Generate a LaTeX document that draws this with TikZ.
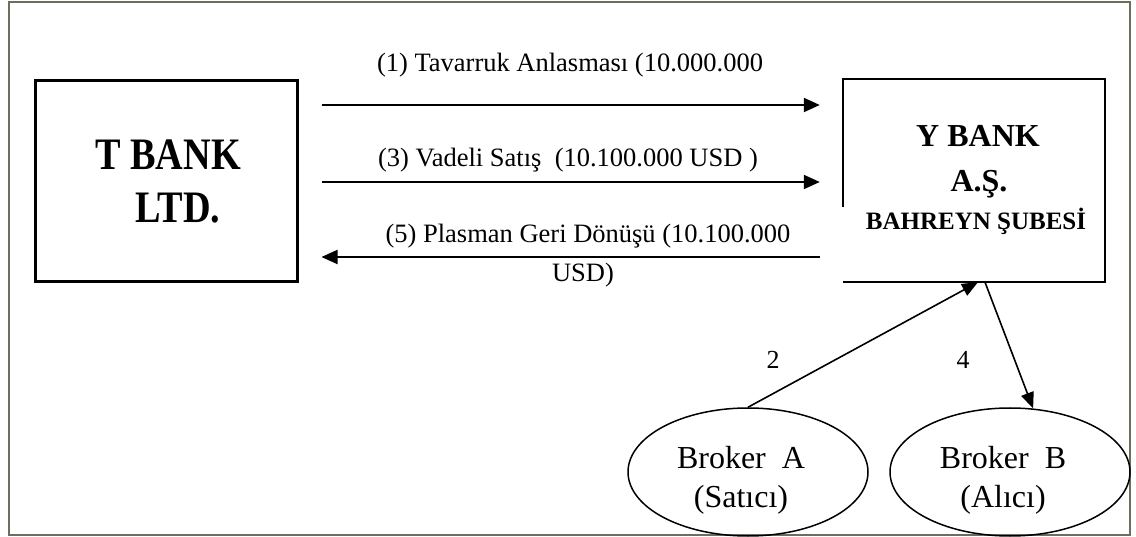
\documentclass[tikz,border=0pt]{standalone}
\usepackage{fontspec}
\setmainfont{Liberation Serif}
\usepackage{graphicx}
\usetikzlibrary{arrows.meta,shapes.geometric,calc}
\definecolor{framec}{HTML}{6E6E5E}
\begin{document}
\begin{tikzpicture}[x=1pt,y=-1pt,
  tbox/.style={draw, line width=3pt, minimum width=262pt, minimum height=201pt, inner sep=0pt},
  ybox/.style={minimum width=262pt, minimum height=203pt, inner sep=0pt},
  broker/.style={draw, ellipse, line width=1.5pt, minimum width=240pt, minimum height=128pt, inner sep=0pt},
  lbl/.style={anchor=base, inner sep=0pt, font=\fontsize{26.5}{30}\selectfont},
  btext/.style={align=center, inner sep=0pt, font=\fontsize{32}{39}\selectfont},
  num/.style={inner sep=0pt, font=\fontsize{26}{30}\selectfont},
  harr/.style={line width=2pt, -{Triangle[length=16pt,width=14pt]}, shorten <=23pt, shorten >=23pt},
  darr/.style={line width=1.6pt, -{Triangle[length=16pt,width=13pt]}}
]
\useasboundingbox (0,0) rectangle (1136,537);
\fill[white] (0,0) rectangle (1136,537);
\draw[framec, line width=2pt] (9,2) rectangle (1130,535);

% boxes
\node[tbox] (T) at (166,181.5) {};
\node[anchor=base, inner sep=0pt] (T1) at (168,170) {\scalebox{0.85}[1]{\fontsize{45}{45}\selectfont\bfseries T BANK}};
\node[anchor=base, inner sep=0pt] (T2) at (178,223) {\scalebox{0.85}[1]{\fontsize{45}{45}\selectfont\bfseries LTD.}};

\node[ybox] (Y) at (974,180.5) {};
\draw[line width=1.5pt] ($(Y.south west)+(0,-75)$) -- (Y.north west) -- (Y.north east) -- (Y.south east) -- (Y.south west);
\node[anchor=base, inner sep=0pt, font=\fontsize{32}{32}\selectfont\bfseries] (Y1) at (978,147) {Y BANK};
\node[anchor=base, inner sep=0pt, font=\fontsize{32}{32}\selectfont\bfseries] (Y2) at (979,192) {A.Ş.};
\node[anchor=base, inner sep=0pt, font=\fontsize{25}{26}\selectfont\bfseries] (Y3) at (976,230) {BAHREYN ŞUBESİ};

% brokers
\node[broker] (bA) at (748,472) {};
\node[btext] (bAt) at (741,480) {Broker\ \ A\\(Satıcı)};
\node[broker] (bB) at (1010,472) {};
\node[btext] (bBt) at (1003,480) {Broker\ \ B\\(Alıcı)};

% horizontal arrows
\coordinate (r1) at (0,105);
\coordinate (r3) at (0,182);
\coordinate (r5) at (0,257);
\draw[harr] (T.east |- r1) -- (Y.west |- r1);
\draw[harr] (T.east |- r3) -- (Y.west |- r3);
\draw[harr] (Y.west |- r5) -- (T.east |- r5);

\node[lbl] (L1) at (570,72) {(1) Tavarruk Anlasması (10.000.000};
\node[lbl] (L3) at (568,167) {(3) Vadeli Satış\ \ (10.100.000 USD )};
\node[lbl] (L5) at (588,243) {(5) Plasman Geri Dönüşü (10.100.000};
\node[lbl] (L5b) at (583,282) {USD)};

% diagonal arrows
\draw[darr] (bA.north) -- ($(Y.south)+(4,0)$);
\draw[darr] ($(Y.south)+(11,0)$) -- (bB.70);
\node[num] (n2) at (773,360) {2};
\node[num] (n4) at (963,360) {4};
\end{tikzpicture}
\end{document}
